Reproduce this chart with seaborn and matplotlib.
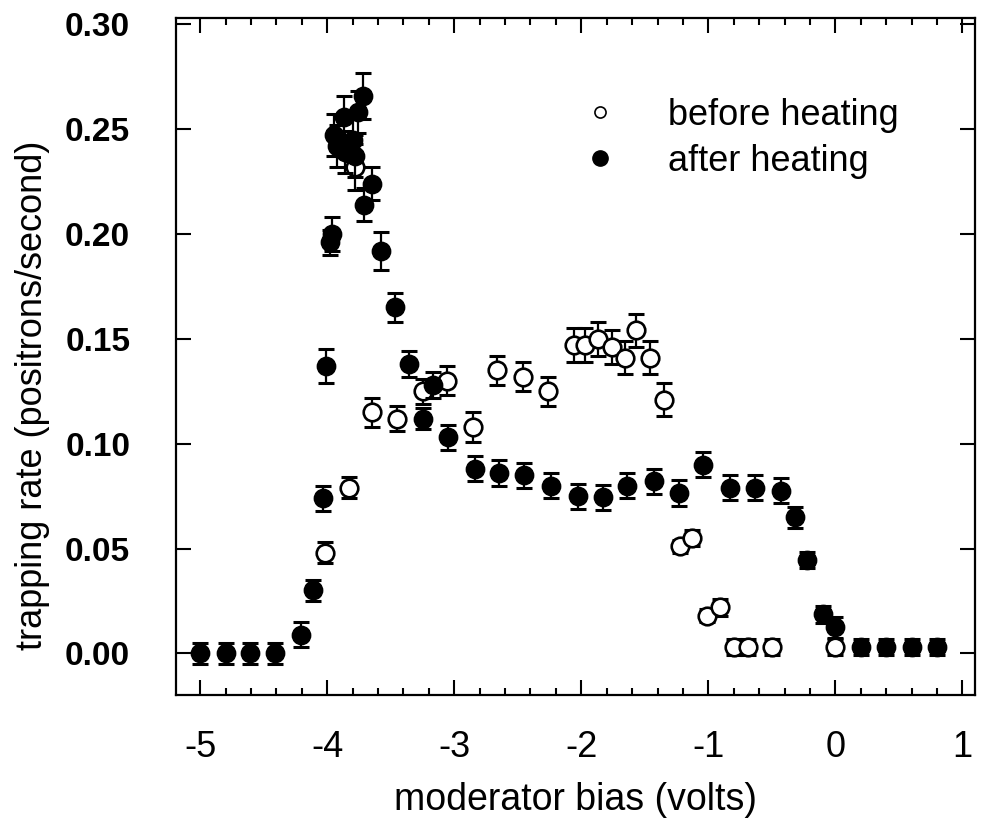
import numpy as np
import pandas as pd
import matplotlib.pyplot as plt
import seaborn as sns
from matplotlib.lines import Line2D
from matplotlib.ticker import MultipleLocator, FormatStrFormatter

# before heating (open circles)
before_x = [-4.02, -3.83, -3.78, -3.65, -3.45, -3.25, -3.06, -2.85, -2.66, -2.46, -2.26,
            -2.06, -1.97, -1.87, -1.76, -1.66, -1.57, -1.46, -1.35, -1.22, -1.13,
            -1.01, -0.91, -0.80, -0.69, -0.50, 0.0]
before_y = [0.048, 0.079, 0.232, 0.115, 0.112, 0.125, 0.130, 0.108, 0.135, 0.132, 0.125,
            0.147, 0.147, 0.150, 0.146, 0.141, 0.154, 0.141, 0.121, 0.051, 0.055,
            0.018, 0.022, 0.003, 0.003, 0.003, 0.003]
before_err = [0.005, 0.005, 0.011, 0.007, 0.006, 0.006, 0.007, 0.007, 0.007, 0.007, 0.007,
              0.008, 0.008, 0.008, 0.008, 0.008, 0.008, 0.008, 0.008, 0.003, 0.004,
              0.003, 0.004, 0.004, 0.004, 0.004, 0.004]

# after heating (filled circles)
after_x = [-5.0, -4.8, -4.61, -4.41, -4.21, -4.11, -4.03, -4.01, -3.98, -3.96,
           -3.95, -3.92, -3.87, -3.86, -3.80, -3.78, -3.76, -3.72, -3.71, -3.65,
           -3.58, -3.47, -3.36, -3.25, -3.17, -3.05, -2.84, -2.65, -2.45, -2.24,
           -2.03, -1.83, -1.64, -1.43, -1.23, -1.04, -0.83, -0.63, -0.43, -0.32,
           -0.22, -0.10, 0.0, 0.2, 0.4, 0.6, 0.8]
after_y = [0.0, 0.0, 0.0, 0.0, 0.009, 0.030, 0.074, 0.137, 0.196, 0.200,
           0.247, 0.242, 0.256, 0.239, 0.245, 0.237, 0.258, 0.266, 0.214, 0.224,
           0.192, 0.165, 0.138, 0.112, 0.128, 0.103, 0.088, 0.086, 0.085, 0.080,
           0.075, 0.0745, 0.080, 0.082, 0.0765, 0.090, 0.079, 0.079, 0.0775, 0.065,
           0.0445, 0.0186, 0.0124, 0.003, 0.003, 0.003, 0.003]
after_err = [0.005, 0.005, 0.005, 0.005, 0.006, 0.005, 0.006, 0.008, 0.006, 0.008,
             0.010, 0.010, 0.010, 0.010, 0.010, 0.010, 0.010, 0.011, 0.008, 0.008,
             0.009, 0.007, 0.006, 0.005, 0.006, 0.006, 0.006, 0.006, 0.006, 0.006,
             0.006, 0.006, 0.006, 0.006, 0.006, 0.006, 0.006, 0.006, 0.006, 0.005,
             0.004, 0.004, 0.005, 0.004, 0.004, 0.004, 0.004]

df_before = pd.DataFrame({'bias': before_x, 'rate': before_y})
df_after = pd.DataFrame({'bias': after_x, 'rate': after_y})

sns.set_style("ticks")
plt.rcParams['font.family'] = ['Liberation Sans', 'DejaVu Sans']
plt.rcParams['axes.unicode_minus'] = False
plt.rcParams['text.color'] = 'black'
plt.rcParams['axes.labelcolor'] = 'black'
plt.rcParams['xtick.color'] = 'black'
plt.rcParams['ytick.color'] = 'black'
plt.rcParams['axes.edgecolor'] = 'black'

fig, ax = plt.subplots(figsize=(9.89, 8.19), dpi=100)
fig.subplots_adjust(left=0.178, right=0.986, bottom=0.151, top=0.978)

# open points first, filled on top
ax.errorbar(before_x, before_y, yerr=before_err, fmt='none', ecolor='black',
            elinewidth=1.6, capsize=6, capthick=2.2, zorder=2)
sns.scatterplot(data=df_before, x='bias', y='rate', marker='o', s=160,
                facecolor='white', edgecolor='black', linewidth=1.9, zorder=3,
                ax=ax, legend=False)

ax.errorbar(after_x, after_y, yerr=after_err, fmt='none', ecolor='black',
            elinewidth=1.6, capsize=6, capthick=2.2, zorder=4)
sns.scatterplot(data=df_after, x='bias', y='rate', marker='o', s=175,
                color='black', edgecolor='black', linewidth=1, zorder=5,
                ax=ax, legend=False)

ax.set_xlim(-5.19, 1.10)
ax.set_ylim(-0.02, 0.303)
ax.xaxis.set_major_locator(MultipleLocator(1))
ax.xaxis.set_minor_locator(MultipleLocator(0.2))
ax.yaxis.set_major_locator(MultipleLocator(0.05))
ax.yaxis.set_major_formatter(FormatStrFormatter('%.2f'))

ax.tick_params(which='both', direction='in', top=True, right=True, width=1.5)
ax.tick_params(which='major', length=11)
ax.tick_params(which='minor', length=5)
ax.tick_params(axis='x', labelsize=26, pad=25)
ax.tick_params(axis='y', labelsize=24, pad=33)
for lab in ax.get_yticklabels():
    lab.set_fontweight('bold')
for sp in ax.spines.values():
    sp.set_linewidth(1.6)

ax.set_xlabel('moderator bias (volts)', fontsize=27, labelpad=12)
ax.set_ylabel('trapping rate (positrons/second)', fontsize=26)
ax.yaxis.set_label_coords(-0.158, 0.443)

handles = [
    Line2D([], [], marker='o', ls='none', ms=8, mfc='white', mec='black', mew=1.2),
    Line2D([], [], marker='o', ls='none', ms=11, mfc='black', mec='black'),
]
ax.legend(handles, ['before heating', 'after heating'], loc='upper left',
          bbox_to_anchor=(0.485, 0.882), frameon=False, fontsize=26,
          handletextpad=0.9, labelspacing=0.3, borderpad=0, borderaxespad=0)

plt.savefig('out.png', dpi=100)
